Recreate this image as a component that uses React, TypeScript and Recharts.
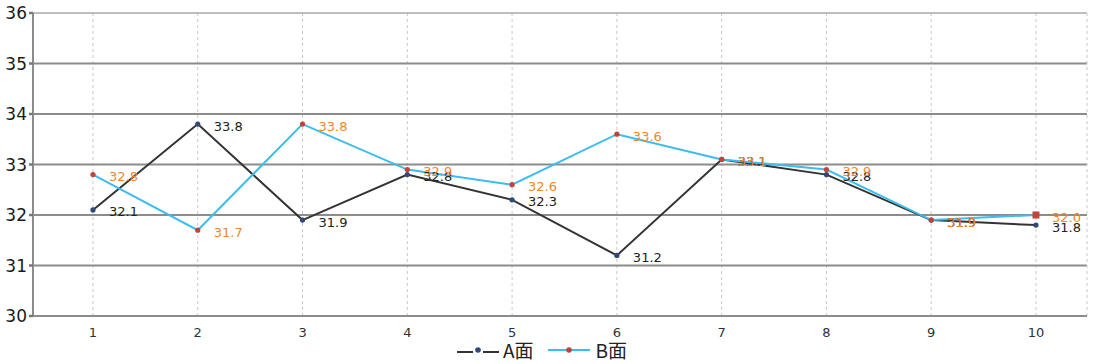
import {
  CartesianGrid,
  LabelList,
  Line,
  LineChart,
  ReferenceLine,
  XAxis,
  YAxis,
} from "recharts";

const categories = [1, 2, 3, 4, 5, 6, 7, 8, 9, 10];
const seriesA = [32.1, 33.8, 31.9, 32.8, 32.3, 31.2, 33.1, 32.8, 31.9, 31.8];
const seriesB = [32.8, 31.7, 33.8, 32.9, 32.6, 33.6, 33.1, 32.9, 31.9, 32.0];
const yTicks = [30, 31, 32, 33, 34, 35, 36];
const edgeTicks = [1.5, 2.5, 3.5, 4.5, 5.5, 6.5, 7.5, 8.5, 9.5];

const X_DOMAIN: [number, number] = [0.4275, 10.487];

const data = categories.map((c, i) => ({ x: c, a: seriesA[i], b: seriesB[i] }));

const COLOR_A = "#333333";
const COLOR_A_DOT = "#2d4a78";
const COLOR_B = "#3cbdee";
const COLOR_B_DOT = "#c0443c";
const LABEL_B = "#f0862e";
const GRID = "#8c8c8c";

const makeLabel = (color: string) => (props: any) => {
  const { x, y, value } = props;
  return (
    <text
      x={x + 16}
      y={y + 3}
      fill={color}
      fontSize={13}
      fontFamily="DejaVu Sans, sans-serif"
      dominantBaseline="middle"
    >
      {Number(value).toFixed(1)}
    </text>
  );
};

const dotA = (props: any) => (
  <circle key={props.index} cx={props.cx} cy={props.cy} r={2.6} fill={COLOR_A_DOT} />
);

const dotB = (props: any) =>
  props.index === data.length - 1 ? (
    <rect key={props.index} x={props.cx - 3.5} y={props.cy - 3.5} width={7} height={7} fill={COLOR_B_DOT} />
  ) : (
    <circle key={props.index} cx={props.cx} cy={props.cy} r={2.6} fill={COLOR_B_DOT} />
  );

function Legend() {
  return (
    <div
      style={{
        position: "absolute",
        left: 455,
        top: 338,
        display: "flex",
        alignItems: "center",
        fontFamily: "Noto Sans CJK SC, sans-serif",
        fontSize: 19,
        lineHeight: "24px",
        color: "#222",
        whiteSpace: "nowrap",
      }}
    >
      <svg width={46} height={12}>
        <line x1={2} y1={8} x2={44} y2={8} stroke={COLOR_A} strokeWidth={2} />
        <rect x={18} y={6} width={10} height={4} fill="#fff" />
        <circle cx={23} cy={6} r={2.8} fill={COLOR_A_DOT} />
      </svg>
      <span style={{ marginLeft: 2, marginRight: 14 }}>A面</span>
      <svg width={42} height={12}>
        <line x1={0} y1={6} x2={42} y2={6} stroke={COLOR_B} strokeWidth={2} />
        <circle cx={21} cy={6} r={2.8} fill={COLOR_B_DOT} />
      </svg>
      <span style={{ marginLeft: 6 }}>B面</span>
    </div>
  );
}

export default function App() {
  return (
    <div style={{ position: "fixed", left: 0, top: 0, width: 1097, height: 364, background: "#fff" }}>
      <LineChart
        width={1097}
        height={364}
        data={data}
        margin={{ top: 13, right: 10, left: 0, bottom: 18 }}
      >
        <CartesianGrid
          horizontal={false}
          vertical
          verticalValues={categories}
          stroke="#c8c8c8"
          strokeDasharray="3 3"
        />
        {yTicks.slice(1).map((t) => (
          <ReferenceLine
            key={t}
            y={t}
            stroke={t === 36 ? "#a8a8a8" : GRID}
            strokeWidth={t === 36 ? 1.5 : 2}
          />
        ))}
        <ReferenceLine x={X_DOMAIN[1]} stroke="#c8c8c8" strokeDasharray="3 3" />
        <XAxis
          xAxisId="edges"
          dataKey="x"
          type="number"
          domain={X_DOMAIN}
          allowDataOverflow
          ticks={edgeTicks}
          tick={false}
          axisLine={false}
          tickLine={{ stroke: "#555", strokeWidth: 2.5 }}
          tickSize={6}
          mirror
          height={0}
        />
        <XAxis
          dataKey="x"
          type="number"
          domain={X_DOMAIN}
          allowDataOverflow
          ticks={categories}
          tickLine={false}
          axisLine={{ stroke: GRID, strokeWidth: 2 }}
          tick={{ fontSize: 13, fill: "#2a3240", fontFamily: "DejaVu Sans, sans-serif" }}
          tickMargin={6}
          height={30}
        />
        <YAxis
          domain={[30, 36]}
          ticks={yTicks}
          width={33}
          axisLine={{ stroke: GRID, strokeWidth: 2 }}
          tickLine={{ stroke: "#777", strokeWidth: 2.5 }}
          tickSize={4}
          tick={{ fontSize: 17, fill: "#1a1a1a", fontFamily: "DejaVu Sans, sans-serif" }}
          interval={0}
        />
        <Line
          dataKey="a"
          stroke={COLOR_A}
          strokeWidth={2}
          dot={dotA}
          activeDot={false}
          isAnimationActive={false}
        >
          <LabelList dataKey="a" content={makeLabel("#222")} />
        </Line>
        <Line
          dataKey="b"
          stroke={COLOR_B}
          strokeWidth={2}
          dot={dotB}
          activeDot={false}
          isAnimationActive={false}
        >
          <LabelList dataKey="b" content={makeLabel(LABEL_B)} />
        </Line>
      </LineChart>
      <Legend />
    </div>
  );
}
